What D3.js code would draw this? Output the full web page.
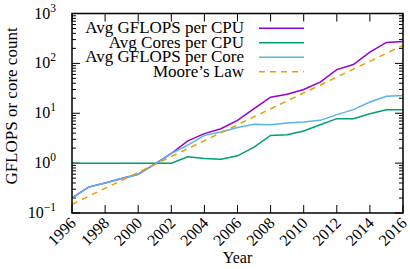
<!DOCTYPE html>
<html>
<head>
<meta charset="UTF-8">
<script src="https://cdn.jsdelivr.net/npm/d3@7"></script>
</head>
<body style="margin:0">
<svg id="chart" width="410" height="269"></svg>
<script>
    // data
    var years = d3.range(1996, 2017);
    var gflopsPerCpu = [0.2, 0.33, 0.4, 0.49, 0.6, 0.95, 1.56, 2.8, 3.9, 4.9, 7.2, 12.4, 21, 24, 30, 42, 75, 95, 168, 263, 275];
    var coresPerCpu = [1, 1, 1, 1, 1, 1, 1, 1.34, 1.24, 1.2, 1.4, 2.1, 3.6, 3.7, 4.4, 5.9, 7.8, 7.8, 9.8, 11.8, 11.8];
    var gflopsPerCore = [0.2, 0.33, 0.4, 0.49, 0.6, 0.95, 1.56, 2.3, 3.6, 4.2, 5.2, 6.0, 5.9, 6.4, 6.7, 7.2, 9.4, 11.8, 16.8, 21.9, 22.6];
    var mooreYears = [1996, 2016];
    var mooreValues = [0.15, 230];
    var xTicks = d3.range(1996, 2017, 2);
    var yExponents = [-1, 0, 1, 2, 3];

    var series = [
        { name: "Avg GFLOPS per CPU", values: gflopsPerCpu, xs: years, color: "#9400d3", dash: null },
        { name: "Avg Cores per CPU", values: coresPerCpu, xs: years, color: "#009e73", dash: null },
        { name: "Avg GFLOPS per Core", values: gflopsPerCore, xs: years, color: "#56b4e9", dash: null },
        { name: "Moore\u2019s Law", values: mooreValues, xs: mooreYears, color: "#e69f00", dash: "6,5" }
    ];

    var serif = "'Liberation Serif'";

    var margin = { top: 13.5, right: 7, bottom: 56, left: 72 };
    var width = 410 - margin.left - margin.right;
    var height = 269 - margin.top - margin.bottom;

    var svg = d3.select("#chart");
    var g = svg.append("g").attr("transform", "translate(" + margin.left + "," + margin.top + ")");

    var x = d3.scaleLinear().domain([1996, 2016]).range([0, width]);
    var y = d3.scaleLog().domain([0.1, 1000]).range([height, 0]);

    // minor log ticks
    var minor = [];
    yExponents.slice(0, -1).forEach(function(e) {
        for (var k = 2; k <= 9; k++) minor.push(k * Math.pow(10, e));
    });
    var majors = yExponents.map(function(e) { return Math.pow(10, e); });

    // ticks, all pointing inward
    var ticks = g.append("g").attr("stroke", "#000").attr("stroke-width", 1);
    xTicks.forEach(function(t) {
        ticks.append("line").attr("x1", x(t)).attr("x2", x(t)).attr("y1", height).attr("y2", height - 8);
        ticks.append("line").attr("x1", x(t)).attr("x2", x(t)).attr("y1", 0).attr("y2", 8);
    });
    majors.forEach(function(v) {
        ticks.append("line").attr("x1", 0).attr("x2", 8).attr("y1", y(v)).attr("y2", y(v));
        ticks.append("line").attr("x1", width).attr("x2", width - 8).attr("y1", y(v)).attr("y2", y(v));
    });
    minor.forEach(function(v) {
        ticks.append("line").attr("x1", 0).attr("x2", 4).attr("y1", y(v)).attr("y2", y(v));
        ticks.append("line").attr("x1", width).attr("x2", width - 4).attr("y1", y(v)).attr("y2", y(v));
    });

    // lines
    var line = d3.line()
        .x(function(d) { return x(d[0]); })
        .y(function(d) { return y(d[1]); });

    series.forEach(function(s) {
        g.append("path")
            .datum(s.xs.map(function(t, i) { return [t, s.values[i]]; }))
            .attr("fill", "none")
            .attr("stroke", s.color)
            .attr("stroke-width", 1.5)
            .attr("stroke-dasharray", s.dash)
            .attr("d", line);
    });

    // frame
    g.append("rect").attr("width", width).attr("height", height)
        .attr("fill", "none").attr("stroke", "#000").attr("stroke-width", 1.5);

    // y tick labels as 10^n
    yExponents.forEach(function(e) {
        var t = g.append("text")
            .attr("x", -16).attr("y", y(Math.pow(10, e)) + 5)
            .attr("text-anchor", "end").attr("font-size", 16)
            .style("font-family", serif);
        t.append("tspan").text("10");
        t.append("tspan").attr("dy", -7).attr("font-size", 11.5).text(e < 0 ? "\u2212" + (-e) : e);
    });

    // x tick labels, rotated
    xTicks.forEach(function(t) {
        g.append("text")
            .attr("transform", "translate(" + (x(t) + 5) + "," + (height + 11) + ") rotate(-45)")
            .attr("text-anchor", "end")
            .attr("font-size", 16)
            .style("font-family", serif)
            .text(t);
    });

    // axis titles
    svg.append("text")
        .attr("x", margin.left + width / 2).attr("y", 263)
        .attr("text-anchor", "middle").attr("font-size", 16)
        .style("font-family", serif)
        .text("Year");
    svg.append("text")
        .attr("transform", "translate(17,106) rotate(-90)")
        .attr("text-anchor", "middle").attr("font-size", 17)
        .style("font-family", serif)
        .text("GFLOPS or core count");

    // legend
    var legend = svg.append("g");
    series.forEach(function(s, i) {
        var ly = 28.3 + i * 14.5;
        legend.append("text")
            .attr("x", 244).attr("y", ly + 5)
            .attr("text-anchor", "end").attr("font-size", 17)
            .style("font-family", serif)
            .text(s.name);
        legend.append("line")
            .attr("x1", 259).attr("x2", 304).attr("y1", ly).attr("y2", ly)
            .attr("stroke", s.color).attr("stroke-width", 1.5)
            .attr("stroke-dasharray", s.dash);
    });
</script>
</body>
</html>
